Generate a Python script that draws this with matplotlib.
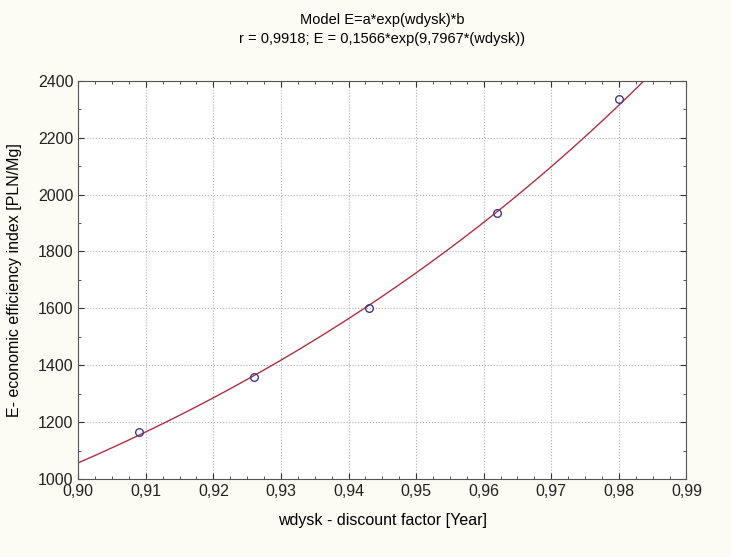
import matplotlib.pyplot as plt
import numpy as np
from matplotlib.ticker import FuncFormatter, MultipleLocator

plt.rcParams["font.family"] = ["Liberation Sans", "DejaVu Sans"]

# observed points
wdysk = [0.909, 0.926, 0.943, 0.962, 0.980]
efficiency = [1165, 1360, 1600, 1935, 2335]

# fitted model E = a*exp(b*wdysk)
a_coef = 0.1566
b_coef = 9.7967

fig = plt.figure(figsize=(7.31, 5.57), dpi=100, facecolor="#fcfbf4")
ax = fig.add_axes([0.107, 0.140, 0.832, 0.715])
ax.set_facecolor("white")

xs = np.linspace(0.90, 0.99, 300)
ax.plot(xs, a_coef * np.exp(b_coef * xs), color="#b03040", lw=1.0)
ax.plot(wdysk, efficiency, "o", mfc="none", mec="#3a3a90", ms=5.5, mew=1.0)

ax.set_xlim(0.90, 0.99)
ax.set_ylim(1000, 2400)
ax.xaxis.set_major_locator(MultipleLocator(0.01))
ax.xaxis.set_minor_locator(MultipleLocator(0.0025))
ax.yaxis.set_major_locator(MultipleLocator(200))
ax.yaxis.set_minor_locator(MultipleLocator(100))
ax.xaxis.set_major_formatter(FuncFormatter(lambda v, p: f"{v:.2f}".replace(".", ",")))
ax.tick_params(which="both", direction="in", top=True, right=True, labelsize=11.5, colors="#333333")
ax.tick_params(which="major", length=4)
ax.tick_params(which="minor", length=2)
ax.tick_params(axis="both", labelcolor="#222222")
ax.grid(True, which="major", color="#b0b0b0", ls=":", lw=0.8)
for s in ax.spines.values():
    s.set_color("#555555")

ax.set_xlabel("wdysk - discount factor [Year]", fontsize=11.5, labelpad=10)
ax.set_ylabel("E- economic efficiency index [PLN/Mg]", fontsize=11.5, labelpad=11)
ax.set_title("Model E=a*exp(wdysk)*b\nr = 0,9918; E = 0,1566*exp(9,7967*(wdysk))",
             fontsize=10.5, pad=27, linespacing=1.5)

fig.savefig("out.png", dpi=100, facecolor=fig.get_facecolor())
